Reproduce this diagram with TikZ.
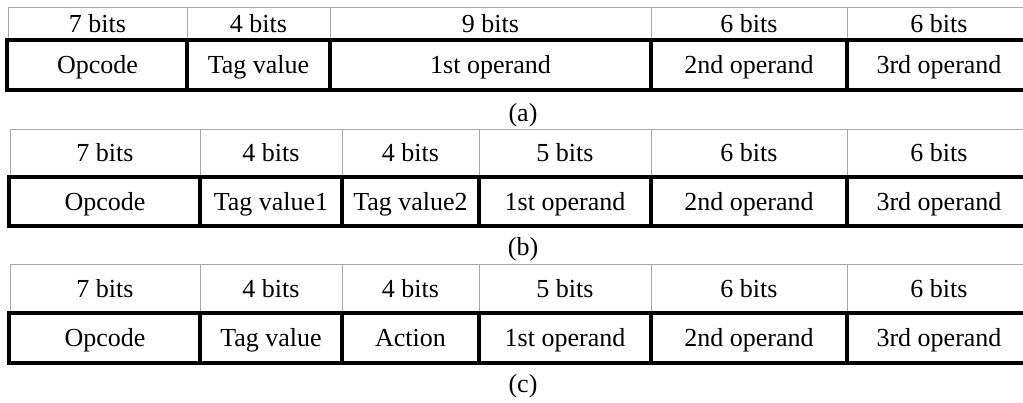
\documentclass[tikz,border=0pt]{standalone}
\usepackage{fontspec}
\setmainfont{Liberation Serif}
\definecolor{gridgray}{HTML}{A8A8A8}
\begin{document}
\begin{tikzpicture}[x=1pt,y=-1pt,
  thin grid/.style={draw=gridgray,line width=1pt},
  thick box/.style={draw=black,line width=4pt},
  txt/.style={inner sep=0pt,anchor=base,font=\fontsize{26}{30}\selectfont},
  lbl/.style={inner sep=0pt,font=\fontsize{26}{30}\selectfont},
]
\useasboundingbox (0,0) rectangle (1023,403);
% ---------- (a) ----------
\draw[thin grid] (8,40) -- (8,8) -- (1040,8);
\foreach \x in {187,330,651,847} \draw[thin grid] (\x,8) -- (\x,40);
\draw[thick box] (1040,40.5) -- (7,40.5) -- (7,90) -- (1040,90);
\foreach \x in {187,330,651,847} \draw[thick box] (\x,40.5) -- (\x,90);
\node[txt] (ah1) at (97.5,32.7) {7 bits};
\node[txt] (ah2) at (258.5,32.7) {4 bits};
\node[txt] (ah3) at (490.5,32.7) {9 bits};
\node[txt] (ah4) at (749,32.7) {6 bits};
\node[txt] (ah5) at (939,32.7) {6 bits};
\node[txt] (ab1) at (97.5,73.5) {Opcode};
\node[txt] (ab2) at (258.5,73.5) {Tag value};
\node[txt] (ab3) at (490.5,73.5) {1st operand};
\node[txt] (ab4) at (749,73.5) {2nd operand};
\node[txt] (ab5) at (939,73.5) {3rd operand};
\node[lbl] (la) at (523,115) {(a)};
% ---------- (b) ----------
\draw[thin grid] (10,177) -- (10,129.5) -- (1040,129.5);
\foreach \x in {200,342,479,651,847} \draw[thin grid] (\x,129.5) -- (\x,177);
\draw[thick box] (1040,177) -- (9,177) -- (9,226) -- (1040,226);
\foreach \x in {200,342,479,651,847} \draw[thick box] (\x,177) -- (\x,226);
\node[txt] (bh1) at (105,161.8) {7 bits};
\node[txt] (bh2) at (271,161.8) {4 bits};
\node[txt] (bh3) at (410.5,161.8) {4 bits};
\node[txt] (bh4) at (565,161.8) {5 bits};
\node[txt] (bh5) at (749,161.8) {6 bits};
\node[txt] (bh6) at (939,161.8) {6 bits};
\node[txt] (bb1) at (105,210.5) {Opcode};
\node[txt] (bb2) at (271,210.5) {Tag value1};
\node[txt] (bb3) at (410.5,210.5) {Tag value2};
\node[txt] (bb4) at (565,210.5) {1st operand};
\node[txt] (bb5) at (749,210.5) {2nd operand};
\node[txt] (bb6) at (939,210.5) {3rd operand};
\node[lbl] (lb) at (523,249) {(b)};
% ---------- (c) ----------
\draw[thin grid] (10,313) -- (10,265) -- (1040,265);
\foreach \x in {200,342,479,651,847} \draw[thin grid] (\x,265) -- (\x,313);
\draw[thick box] (1040,313) -- (9,313) -- (9,363) -- (1040,363);
\foreach \x in {200,342,479,651,847} \draw[thick box] (\x,313) -- (\x,363);
\node[txt] (ch1) at (105,297.7) {7 bits};
\node[txt] (ch2) at (271,297.7) {4 bits};
\node[txt] (ch3) at (410.5,297.7) {4 bits};
\node[txt] (ch4) at (565,297.7) {5 bits};
\node[txt] (ch5) at (749,297.7) {6 bits};
\node[txt] (ch6) at (939,297.7) {6 bits};
\node[txt] (cb1) at (105,346.7) {Opcode};
\node[txt] (cb2) at (271,346.7) {Tag value};
\node[txt] (cb3) at (410.5,346.7) {Action};
\node[txt] (cb4) at (565,346.7) {1st operand};
\node[txt] (cb5) at (749,346.7) {2nd operand};
\node[txt] (cb6) at (939,346.7) {3rd operand};
\node[lbl] (lc) at (523,386) {(c)};
\end{tikzpicture}
\end{document}
